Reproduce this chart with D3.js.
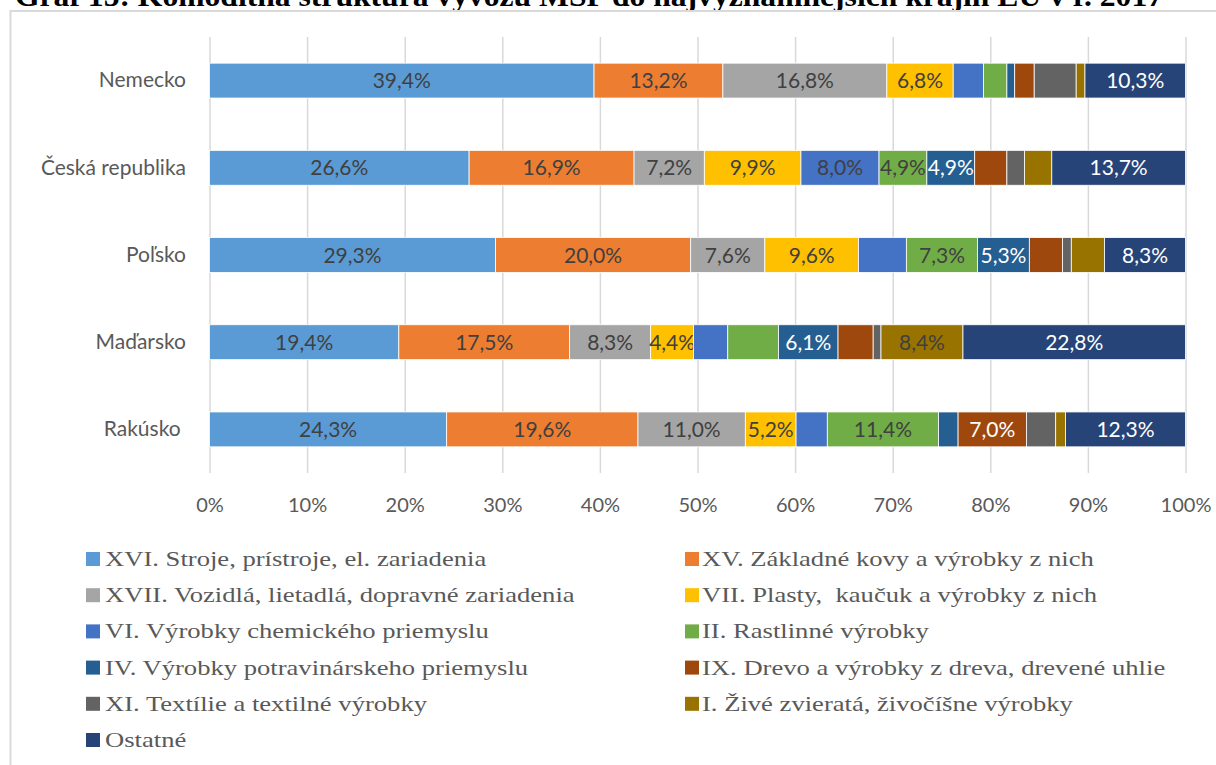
<!DOCTYPE html>
<html>
<head>
<meta charset="utf-8">
<script src="https://cdn.jsdelivr.net/npm/d3@7"></script>
<style>
body{margin:0;background:#fff;}
svg{display:block;}
</style>
</head>
<body>
<svg id="chart" width="1216" height="765"></svg>
<script>
// canvas size
var width = 1216, height = 765;

var title = 'Graf 15: Komoditná štruktúra vývozu MSP do najvýznamnejších krajín EÚ v r. 2017';
var countries = ['Nemecko', 'Česká republika', 'Poľsko', 'Maďarsko', 'Rakúsko\u00a0'];

var seriesNames = [
    'XVI. Stroje, prístroje, el. zariadenia',
    'XV. Základné kovy a výrobky z nich',
    'XVII. Vozidlá, lietadlá, dopravné zariadenia',
    'VII. Plasty,  kaučuk a výrobky z nich',
    'VI. Výrobky chemického priemyslu',
    'II. Rastlinné výrobky',
    'IV. Výrobky potravinárskeho priemyslu',
    'IX. Drevo a výrobky z dreva, drevené uhlie',
    'XI. Textílie a textilné výrobky',
    'I. Živé zvieratá, živočíšne výrobky',
    'Ostatné'
];
var seriesColors = ['#5B9BD5', '#ED7D31', '#A5A5A5', '#FFC000', '#4472C4', '#70AD47',
    '#255E91', '#9E480E', '#636363', '#997300', '#264478'];
// label text colour (white on the dark fills)
var labelColors = ['#404040', '#404040', '#404040', '#404040', '#404040', '#404040',
    '#ffffff', '#ffffff', '#ffffff', '#404040', '#ffffff'];

// shares in %, same order as countries
var s16 = [39.4, 26.6, 29.3, 19.4, 24.3];
var s15 = [13.2, 16.9, 20.0, 17.5, 19.6];
var s17 = [16.8, 7.2, 7.6, 8.3, 11.0];
var s7 = [6.8, 9.9, 9.6, 4.4, 5.2];
var s6 = [3.1, 8.0, 4.9, 3.5, 3.2];
var s2 = [2.4, 4.9, 7.3, 5.2, 11.4];
var s4 = [0.8, 4.9, 5.3, 6.1, 2.0];
var s9 = [2.0, 3.3, 3.4, 3.6, 7.0];
var s11 = [4.3, 1.8, 0.9, 0.8, 3.0];
var s1 = [0.9, 2.8, 3.4, 8.4, 1.0];
var sOst = [10.3, 13.7, 8.3, 22.8, 12.3];
var seriesValues = [s16, s15, s17, s7, s6, s2, s4, s9, s11, s1, sOst];

// which segments carry a data label in the original (series index per country)
var shownLabels = [
    [0, 1, 2, 3, 10],
    [0, 1, 2, 3, 4, 5, 6, 10],
    [0, 1, 2, 3, 5, 6, 10],
    [0, 1, 2, 3, 6, 9, 10],
    [0, 1, 2, 3, 5, 7, 10]
];
var xTicks = [0, 0.1, 0.2, 0.3, 0.4, 0.5, 0.6, 0.7, 0.8, 0.9, 1];

// build the table for d3.stack
var table = countries.map(function (c, i) {
    var row = {country: c, idx: i};
    seriesValues.forEach(function (arr, k) { row['s' + k] = arr[i] / 100; });
    return row;
});
var keys = seriesValues.map(function (d, k) { return 's' + k; });
var stacked = d3.stack().keys(keys)(table);

var sk = d3.formatLocale({decimal: ',', thousands: ' ', grouping: [3], currency: ['', '']});
var pct1 = sk.format('.1%');

var plot = {left: 209.5, right: 1185.5, top: 37, bottom: 473};
var x = d3.scaleLinear().domain([0, 1]).range([plot.left, plot.right]);
var y = d3.scaleBand().domain(countries).range([plot.top, plot.bottom])
    .paddingInner(0.6).paddingOuter(0.3);

var svg = d3.select('#chart');

// title (top is cut off in the source)
svg.append('text')
    .attr('x', 15).attr('y', 6)
    .attr('textLength', 1148).attr('lengthAdjust', 'spacingAndGlyphs')
    .style('font-family', '"Liberation Serif", serif')
    .style('font-weight', 'bold')
    .style('font-size', '30px')
    .style('fill', '#000')
    .text(title);

// chart frame
svg.append('rect')
    .attr('x', 10.5).attr('y', 11)
    .attr('width', 1300).attr('height', 900)
    .attr('fill', 'none').attr('stroke', '#d9d9d9').attr('stroke-width', 2);

// gridlines
var grid = svg.append('g')
    .attr('transform', 'translate(0,' + plot.top + ')')
    .call(d3.axisBottom(x).tickValues(xTicks).tickSize(plot.bottom - plot.top).tickFormat(''));
grid.select('.domain').remove();
grid.selectAll('line').attr('stroke', '#d9d9d9').attr('stroke-width', 1.5);

// x tick labels
var xa = svg.append('g')
    .attr('transform', 'translate(0,' + plot.bottom + ')')
    .call(d3.axisBottom(x).tickValues(xTicks).tickSize(0).tickPadding(24.5).tickFormat(d3.format('.0%')));
xa.select('.domain').remove();
xa.selectAll('text')
    .style('font-family', 'Lato, sans-serif').style('font-size', '20px').style('fill', '#595959');

// category labels
var ya = svg.append('g')
    .attr('transform', 'translate(186,0)')
    .call(d3.axisLeft(y).tickSize(0).tickPadding(0));
ya.select('.domain').remove();
ya.selectAll('text')
    .style('font-family', 'Lato, sans-serif').style('font-size', '21px').style('fill', '#595959');

// bars
var layers = svg.append('g').selectAll('g')
    .data(stacked)
    .enter().append('g')
    .attr('fill', function (d, k) { return seriesColors[k]; });

layers.selectAll('rect')
    .data(function (d) { return d; })
    .enter().append('rect')
    .attr('x', function (d) { return x(d[0]); })
    .attr('y', function (d) { return y(d.data.country); })
    .attr('width', function (d) { return x(d[1]) - x(d[0]); })
    .attr('height', y.bandwidth())
    .attr('stroke', '#ffffff')
    .attr('stroke-width', 0.8);

// data labels
layers.each(function (layer, k) {
    d3.select(this).selectAll('text')
        .data(layer.filter(function (d) { return shownLabels[d.data.idx].indexOf(k) >= 0; }))
        .enter().append('text')
        .attr('x', function (d) { return (x(d[0]) + x(d[1])) / 2; })
        .attr('y', function (d) { return y(d.data.country) + y.bandwidth() / 2; })
        .attr('dy', '0.36em')
        .attr('text-anchor', 'middle')
        .style('font-family', 'Lato, sans-serif')
        .style('font-size', '21px')
        .style('fill', labelColors[k])
        .text(function (d) { return pct1(d[1] - d[0]); });
});

// legend, two columns (source text is a wide serif, so stretch it a bit)
var legend = svg.append('g').selectAll('g')
    .data(seriesNames)
    .enter().append('g')
    .attr('transform', function (d, i) {
        var col = i % 2, row = Math.floor(i / 2);
        return 'translate(' + (col ? 685 : 86) + ',' + (566 + row * 36.2) + ')';
    });
legend.append('rect')
    .attr('x', 0).attr('y', -14).attr('width', 14).attr('height', 14)
    .attr('fill', function (d, i) { return seriesColors[i]; });
legend.append('text')
    .attr('transform', function (d, i) { return 'translate(' + (i % 2 ? 17 : 19) + ',0) scale(1.21,1)'; })
    .style('font-family', '"Liberation Serif", serif')
    .style('font-size', '22px')
    .style('fill', '#595959')
    .style('white-space', 'pre')
    .text(function (d) { return d; });
</script>
</body>
</html>
